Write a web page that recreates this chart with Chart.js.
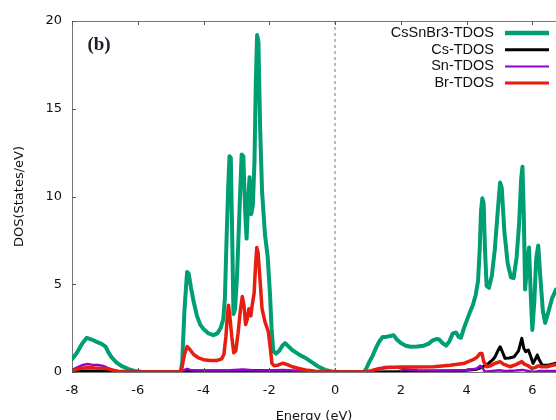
<!DOCTYPE html>
<html>
<head>
<meta charset="utf-8">
<script src="https://cdn.jsdelivr.net/npm/chart.js@4/dist/chart.umd.min.js"></script>
<style>
  html, body { margin: 0; padding: 0; background: #fff; }
  canvas { display: block; }
</style>
</head>
<body>
<canvas id="c" width="556" height="420"></canvas>
<script>
// ---- Data ----
const xTicks = [-8, -6, -4, -2, 0, 2, 4, 6];
const yTicks = [0, 5, 10, 15, 20];

const tdosX = [-8.0,-7.85,-7.7,-7.55,-7.4,-7.25,-7.1,-6.98,-6.9,-6.8,-6.65,-6.5,-6.3,-6.1,-5.9,-5.5,-5.0,-4.7,
  -4.65,-4.58,-4.5,-4.45,-4.38,-4.3,-4.2,-4.1,-4.0,-3.85,-3.7,-3.58,-3.48,-3.4,-3.35,-3.3,-3.25,-3.21,-3.17,-3.13,-3.09,
  -3.04,-2.98,-2.9,-2.84,-2.79,-2.73,-2.69,-2.64,-2.6,-2.55,-2.5,-2.45,-2.41,-2.37,-2.33,-2.28,-2.22,-2.13,-2.05,-1.98,
  -1.93,-1.88,-1.8,-1.7,-1.6,-1.52,-1.44,-1.3,-1.1,-0.9,-0.7,-0.5,-0.3,-0.1,0.1,0.88,0.95,1.05,1.15,1.25,1.35,1.45,1.55,
  1.68,1.78,1.88,2.0,2.15,2.3,2.5,2.7,2.85,2.97,3.08,3.17,3.27,3.38,3.48,3.58,3.68,3.76,3.83,3.92,4.0,4.1,4.19,4.28,4.35,
  4.4,4.44,4.48,4.52,4.56,4.61,4.68,4.77,4.86,4.95,5.02,5.07,5.15,5.25,5.35,5.43,5.52,5.6,5.66,5.7,5.74,5.78,5.84,5.9,
  5.95,6.0,6.06,6.12,6.18,6.24,6.32,6.39,6.5,6.6,6.72];
const tdosY = [0.72,1.1,1.6,1.95,1.85,1.72,1.6,1.45,1.15,0.85,0.55,0.35,0.18,0.06,0.01,0,0,0,
  0.5,3.5,5.7,5.6,4.8,4.0,3.2,2.7,2.45,2.2,2.1,2.2,2.5,3.0,4.2,7.5,10.5,12.3,12.2,8.0,3.3,
  3.6,5.5,9.5,12.4,12.3,9.0,7.6,9.8,11.1,9.0,9.5,12.0,16.5,19.2,18.8,14.0,10.3,7.8,6.6,4.5,
  2.5,1.2,1.05,1.2,1.5,1.65,1.5,1.25,1.0,0.8,0.55,0.3,0.12,0.03,0,0,0.2,0.6,0.95,1.4,1.75,2.0,2.0,
  2.05,2.1,1.85,1.65,1.5,1.44,1.45,1.5,1.62,1.8,1.88,1.85,1.65,1.5,1.75,2.2,2.25,2.0,1.95,2.5,2.9,3.4,3.8,4.4,5.2,
  7.0,9.2,9.9,9.6,7.0,4.9,4.8,5.5,7.0,9.2,10.8,10.5,8.0,6.2,5.4,5.35,6.5,8.5,11.0,11.7,9.0,4.7,6.0,7.1,
  4.5,2.4,4.0,6.5,7.2,5.5,3.5,2.8,3.5,4.2,4.7];

const csX = [-8.0,-7.6,-7.0,-6.5,-4.7,-4.5,-3.0,-2.4,-1.5,-0.5,0,1.0,2.0,3.0,3.5,4.0,4.3,4.5,4.67,4.8,4.87,
  4.95,5.02,5.1,5.17,5.3,5.45,5.58,5.68,5.74,5.8,5.88,5.95,6.02,6.1,6.15,6.22,6.3,6.45,6.6,6.72];
const csY = [0.02,0.06,0.04,0.01,0,0.05,0.05,0.08,0.04,0.01,0,0,0.02,0.04,0.06,0.1,0.15,0.3,0.5,0.7,0.87,
  1.2,1.44,1.1,0.78,0.8,0.87,1.2,1.92,1.35,1.16,1.25,0.9,0.49,0.75,0.97,0.65,0.4,0.38,0.45,0.5];

const snX = [-8.0,-7.85,-7.7,-7.55,-7.4,-7.2,-7.05,-6.9,-6.75,-6.6,-6.4,-4.7,-4.6,-4.5,-4.4,-4.2,-3.6,-3.2,-2.8,
  -2.5,-2.0,-1.6,-1.4,-1.0,-0.5,0,0.9,1.1,1.35,1.5,1.7,1.9,2.1,2.5,3.0,3.5,4.0,4.3,4.42,4.5,4.55,4.7,5.0,5.2,
  5.5,5.7,5.9,6.0,6.2,6.5,6.72];
const snY = [0.12,0.25,0.38,0.45,0.42,0.4,0.35,0.22,0.1,0.03,0,0,0.1,0.18,0.12,0.08,0.08,0.1,0.14,
  0.1,0.08,0.12,0.1,0.05,0.02,0,0,0.05,0.18,0.28,0.28,0.25,0.15,0.1,0.08,0.08,0.12,0.18,0.35,0.2,0.02,0.05,0.1,0.05,
  0.08,0.12,0.05,0,0.05,0.05,0.06];

const brX = [-8.0,-7.85,-7.7,-7.5,-7.3,-7.1,-6.9,-6.75,-6.6,-6.4,-6.0,-4.7,-4.65,-4.58,-4.5,-4.42,-4.3,-4.15,-4.0,
  -3.8,-3.6,-3.45,-3.38,-3.32,-3.27,-3.24,-3.2,-3.14,-3.08,-3.02,-2.95,-2.88,-2.82,-2.77,-2.72,-2.67,-2.62,-2.56,
  -2.52,-2.46,-2.42,-2.38,-2.34,-2.28,-2.22,-2.13,-2.03,-1.97,-1.92,-1.85,-1.72,-1.58,-1.45,-1.3,-1.1,-0.9,-0.6,
  -0.3,0,0.9,1.1,1.3,1.6,2.0,2.5,3.0,3.5,3.9,4.2,4.32,4.41,4.47,4.52,4.61,4.72,4.87,5.02,5.12,5.32,5.5,5.68,5.76,
  5.88,5.98,6.08,6.18,6.29,6.45,6.6,6.72];
const brY = [0.05,0.15,0.22,0.25,0.23,0.22,0.18,0.1,0.04,0.01,0,0,0.3,1.0,1.45,1.3,1.0,0.8,0.7,
  0.65,0.65,0.75,1.0,2.0,3.3,3.8,3.2,2.0,1.1,1.2,2.2,3.5,4.3,3.8,2.7,3.0,3.6,3.2,
  3.8,4.5,6.0,7.1,6.8,5.2,3.6,2.85,2.3,1.4,0.5,0.35,0.4,0.5,0.42,0.3,0.2,0.12,0.05,
  0.01,0,0,0.08,0.18,0.25,0.28,0.28,0.3,0.38,0.48,0.7,0.85,1.06,1.05,0.6,0.3,0.35,0.5,0.59,0.45,0.3,0.42,0.59,0.45,
  0.35,0.2,0.25,0.35,0.3,0.3,0.38,0.42];

const fermiX = [0, 0];
const fermiY = [0, 20];

const seriesLabels = ['CsSnBr3-TDOS', 'Cs-TDOS', 'Sn-TDOS', 'Br-TDOS'];
const seriesColors = ['#009e73', '#000000', '#9400d3', '#e51e10'];
const seriesWidths = [4, 3, 2.5, 3.5];
const legendWidths = [4.5, 3, 2, 3];

// ---- Build datasets ----
function pts(xs, ys) { return xs.map((x, i) => ({ x: x, y: ys[i] })); }
const allX = [tdosX, csX, snX, brX];
const allY = [tdosY, csY, snY, brY];
const datasets = seriesLabels.map((lab, i) => ({
  label: lab,
  data: pts(allX[i], allY[i]),
  borderColor: seriesColors[i],
  backgroundColor: seriesColors[i],
  borderWidth: seriesWidths[i],
  pointRadius: 0,
  tension: 0,
  fill: false,
  borderJoinStyle: 'round',
  borderCapStyle: 'round',
  order: 4 - i
}));
datasets.push({
  label: '',
  data: pts(fermiX, fermiY),
  borderColor: '#a8a8a8',
  borderWidth: 1.5,
  borderDash: [3, 3],
  pointRadius: 0,
  fill: false,
  order: 10
});

const FONT = 'DejaVu Sans';
const TXT = '#111';

const framePlugin = {
  id: 'frame',
  afterDraw(chart) {
    const { ctx, chartArea: a, scales: { x, y } } = chart;
    ctx.save();
    ctx.strokeStyle = '#777';
    ctx.lineWidth = 1;
    // top border
    ctx.beginPath();
    ctx.moveTo(a.left, a.top + 0.5);
    ctx.lineTo(a.right, a.top + 0.5);
    ctx.stroke();
    // inward ticks
    ctx.strokeStyle = '#555';
    ctx.beginPath();
    xTicks.forEach(v => {
      const px = Math.round(x.getPixelForValue(v)) + 0.5;
      ctx.moveTo(px, a.top); ctx.lineTo(px, a.top + 4);
      ctx.moveTo(px, a.bottom); ctx.lineTo(px, a.bottom - 4);
    });
    yTicks.forEach(v => {
      const py = Math.round(y.getPixelForValue(v)) + 0.5;
      ctx.moveTo(a.left, py); ctx.lineTo(a.left + 4, py);
    });
    ctx.stroke();
    // panel label
    ctx.fillStyle = '#1e1e28';
    ctx.font = 'bold 19px "Liberation Serif"';
    ctx.textAlign = 'center';
    ctx.textBaseline = 'middle';
    ctx.fillText('(b)', a.left + 27, a.top + 24);
    // legend
    ctx.font = '14.5px "Liberation Sans"';
    ctx.textAlign = 'right';
    ctx.fillStyle = TXT;
    seriesLabels.forEach((lab, i) => {
      const ry = a.top + 12 + i * 16.7;
      ctx.fillText(lab, a.right - 62, ry);
      ctx.strokeStyle = seriesColors[i];
      ctx.lineWidth = legendWidths[i];
      ctx.beginPath();
      ctx.moveTo(a.right - 51, ry);
      ctx.lineTo(a.right - 7, ry);
      ctx.stroke();
    });
    ctx.restore();
  }
};

new Chart(document.getElementById('c'), {
  type: 'line',
  data: { datasets: datasets },
  options: {
    responsive: false,
    animation: false,
    devicePixelRatio: 1,
    layout: { padding: { top: 21, right: 0, left: 0, bottom: 0 } },
    plugins: { legend: { display: false }, tooltip: { enabled: false } },
    scales: {
      x: {
        type: 'linear',
        min: -8,
        max: 6.72,
        afterFit(s) { s.height = 48; },
        afterBuildTicks(s) { s.ticks = xTicks.map(v => ({ value: v })); },
        ticks: { stepSize: 2, includeBounds: false, font: { family: FONT, size: 13 }, color: TXT, padding: 11, maxRotation: 0 },
        grid: { display: false, drawTicks: false },
        border: { display: true, color: '#777', width: 1 },
        title: { display: true, text: 'Energy (eV)', color: TXT, font: { family: FONT, size: 13, lineHeight: 1 }, padding: { top: 0, bottom: -3 } }
      },
      y: {
        min: 0,
        max: 20,
        afterFit(s) { s.width = 72; },
        afterBuildTicks(s) { s.ticks = yTicks.map(v => ({ value: v })); },
        ticks: { stepSize: 5, font: { family: FONT, size: 13 }, color: TXT, padding: 10 },
        grid: { display: false, drawTicks: false },
        border: { display: true, color: '#777', width: 1 },
        title: { display: true, text: 'DOS(States/eV)', color: TXT, font: { family: FONT, size: 13, lineHeight: 1 }, padding: { top: 13, bottom: 0 } }
      }
    }
  },
  plugins: [framePlugin]
});
</script>
</body>
</html>
